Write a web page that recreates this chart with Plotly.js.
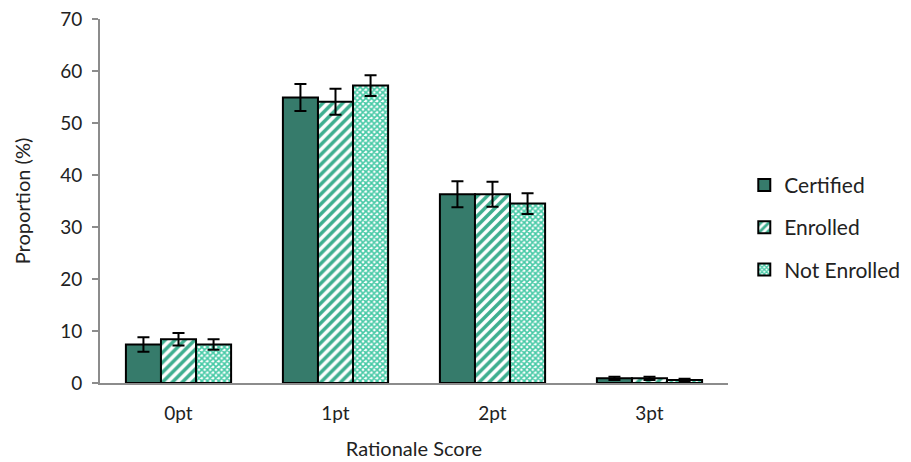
<!DOCTYPE html>
<html>
<head>
<meta charset="utf-8">
<script src="https://cdn.plot.ly/plotly-3.0.1.min.js"></script>
<style>
  html, body { margin: 0; padding: 0; background: #fff; }
  #chart { width: 911px; height: 462px; }
</style>
</head>
<body>
<div id="chart"></div>
<script>
// Rationale score categories
const categories = ['0pt', '1pt', '2pt', '3pt'];

// Proportion (%) per group
const certified = [7.4, 54.9, 36.3, 0.9];
const enrolled = [8.4, 54.1, 36.3, 0.9];
const notEnrolled = [7.4, 57.2, 34.5, 0.6];

// Error bar half-widths (%)
const certifiedErr = [1.4, 2.6, 2.5, 0.3];
const enrolledErr = [1.2, 2.5, 2.4, 0.3];
const notEnrolledErr = [1.0, 2.0, 2.0, 0.2];

const FONT = 'Lato, "Open Sans", sans-serif';

function errBars(arr) {
  return { type: 'data', array: arr, visible: true, color: '#000', thickness: 2, width: 6 };
}

const traces = [
  {
    type: 'bar', name: 'Certified', x: categories, y: certified,
    error_y: errBars(certifiedErr), legendgroup: 'a',
    marker: { color: '#367b6b', line: { color: '#000', width: 2 } }
  },
  {
    type: 'bar', name: 'Enrolled', x: categories, y: enrolled,
    error_y: errBars(enrolledErr), legendgroup: 'b',
    marker: {
      color: '#ffffff', line: { color: '#000', width: 2 },
      pattern: { shape: '/', fgcolor: '#3eae8f', bgcolor: '#ffffff', size: 7, solidity: 0.5, fillmode: 'replace' }
    }
  },
  {
    type: 'bar', name: 'Not Enrolled', x: categories, y: notEnrolled,
    error_y: errBars(notEnrolledErr), legendgroup: 'c',
    marker: {
      color: '#ffffff', line: { color: '#000', width: 2 },
      pattern: { shape: 'x', fgcolor: '#45c9a5', bgcolor: '#ffffff', size: 4, solidity: 0.65, fillmode: 'replace' }
    }
  }
];

const layout = {
  width: 911, height: 462,
  margin: { l: 100, r: 183, t: 19, b: 79 },
  paper_bgcolor: '#fff', plot_bgcolor: '#fff',
  font: { family: FONT, size: 19, color: '#222' },
  barmode: 'group', bargap: 0.33, bargroupgap: 0,
  showlegend: true,
  legend: {
    xref: 'container', yref: 'container',
    x: 0.817, xanchor: 'left', y: 0.508, yanchor: 'middle',
    font: { family: FONT, size: 21, color: '#222' },
    tracegroupgap: 12, itemwidth: 30
  },
  xaxis: {
    type: 'category',
    showline: true, linecolor: '#8c8c8c', linewidth: 2,
    ticks: '', showgrid: false, zeroline: false,
    ticklabelstandoff: 12,
    tickfont: { family: FONT, size: 19, color: '#222' },
    title: { text: 'Rationale Score', font: { family: FONT, size: 20, color: '#222' }, standoff: 19 }
  },
  yaxis: {
    range: [0, 70], dtick: 10,
    showline: true, linecolor: '#8c8c8c', linewidth: 2,
    ticks: 'outside', ticklen: 6, tickwidth: 2, tickcolor: '#8c8c8c',
    showgrid: false, zeroline: false,
    ticklabelstandoff: 6,
    tickfont: { family: FONT, size: 19, color: '#222' },
    title: { text: 'Proportion (%)', font: { family: FONT, size: 20, color: '#222' }, standoff: 24 }
  }
};

Plotly.newPlot('chart', traces, layout, { displayModeBar: false, staticPlot: true });
</script>
</body>
</html>
